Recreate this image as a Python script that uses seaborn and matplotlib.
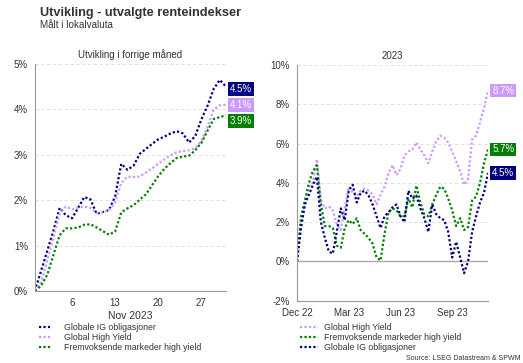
import numpy as np
import pandas as pd
import matplotlib
matplotlib.use("Agg")
import matplotlib.pyplot as plt
import matplotlib.dates as mdates
from matplotlib.ticker import FuncFormatter
import seaborn as sns

# ---------------- data ----------------
series_names = ["Globale IG obligasjoner", "Global High Yield", "Fremvoksende markeder high yield"]

month_dates = pd.date_range("2023-10-31", "2023-12-01", freq="D")
month_ig = [0, 0.45, 0.89, 1.33, 1.83, 1.67, 1.60, 1.83, 2.07, 2.02, 1.70, 1.74, 1.78, 2.08, 2.80, 2.67,
            2.76, 3.02, 3.13, 3.24, 3.34, 3.40, 3.47, 3.52, 3.47, 3.27, 3.41, 3.78, 4.08, 4.45, 4.65, 4.50]
month_hy = [0, 0.20, 0.67, 1.19, 1.70, 1.86, 1.80, 1.83, 1.86, 1.83, 1.72, 1.74, 1.77, 1.95, 2.38, 2.52,
            2.51, 2.52, 2.61, 2.70, 2.80, 2.90, 2.99, 3.06, 3.08, 3.10, 3.15, 3.30, 3.62, 4.00, 4.09, 4.10]
month_em = [0, 0.12, 0.36, 0.80, 1.23, 1.38, 1.38, 1.40, 1.46, 1.47, 1.40, 1.32, 1.24, 1.31, 1.73, 1.82,
            1.89, 2.01, 2.13, 2.33, 2.53, 2.69, 2.82, 2.93, 2.96, 2.98, 3.10, 3.26, 3.53, 3.79, 3.83, 3.87]
month_ticks = ["2023-11-06", "2023-11-13", "2023-11-20", "2023-11-27"]
month_tick_labels = ["6", "13", "20", "27"]

ytd_dates = pd.date_range("2022-12-30", "2023-12-01", freq="7D")
ytd_ig = [0, 1.7, 2.9, 3.4, 3.9, 4.3, 2.0, 1.2, 0.5, 0.4, 1.5, 2.7, 2.1, 3.6, 3.9, 3.0, 3.5, 3.6, 3.35,
          2.9, 2.3, 1.7, 2.3, 2.5, 2.75, 2.9, 2.3, 2.0, 3.6, 3.2, 3.35, 2.7, 2.2, 1.5, 2.9, 2.4, 2.2, 2.1,
          1.5, 0.2, 1.0, 0.2, -0.6, 0.0, 1.5, 2.3, 3.0, 3.5, 4.5]
ytd_hy = [0, 1.9, 3.1, 3.8, 4.0, 5.2, 3.1, 2.7, 2.8, 2.6, 1.9, 1.6, 2.7, 3.8, 3.5, 3.3, 3.6, 3.7, 3.6,
          3.4, 2.9, 3.4, 3.8, 4.5, 4.9, 4.4, 4.7, 5.4, 5.6, 5.7, 6.06, 5.7, 5.4, 5.0, 5.6, 6.1, 6.4, 6.3,
          6.05, 5.6, 5.1, 4.6, 3.9, 4.2, 6.2, 6.4, 7.1, 7.8, 8.7]
ytd_em = [0, 2.3, 3.1, 4.0, 4.6, 4.9, 2.9, 1.8, 1.8, 1.7, 0.8, 0.7, 1.7, 2.1, 1.9, 2.2, 1.6, 1.4, 1.2,
          0.9, 0.2, 0.05, 1.4, 2.5, 2.7, 2.6, 2.3, 2.3, 3.2, 2.75, 3.86, 3.0, 2.4, 2.3, 2.9, 3.4, 3.8, 3.7,
          3.2, 2.6, 1.8, 2.2, 1.6, 1.75, 3.1, 3.3, 4.0, 5.0, 5.7]
ytd_ticks = ["2022-12-31", "2023-03-31", "2023-06-30", "2023-09-30"]
ytd_tick_labels = ["Dec 22", "Mar 23", "Jun 23", "Sep 23"]

end_labels_month = ["4.5%", "4.1%", "3.9%"]
end_labels_ytd = ["4.5%", "8.7%", "5.7%"]

colors = {"Globale IG obligasjoner": "#000080",
          "Global High Yield": "#CC99FF",
          "Fremvoksende markeder high yield": "#008000"}

# ---------------- style ----------------
sns.set_style("white")
plt.rcParams["font.family"] = ["Liberation Sans", "DejaVu Sans"]
TXT = "#333333"

W, H = 523, 363
fig = plt.figure(figsize=(W / 100, H / 100), dpi=100)

axL = fig.add_axes([35 / W, 1 - 291 / H, 191 / W, 227 / H])
axR = fig.add_axes([297 / W, 1 - 300.7 / H, 191 / W, 235.7 / H])

def style_axes(ax):
    for s in ["top", "right"]:
        ax.spines[s].set_visible(False)
    for s in ["left", "bottom"]:
        ax.spines[s].set_color("#999999")
        ax.spines[s].set_linewidth(0.8)
    ax.tick_params(axis="both", which="major", labelsize=7, colors="#999999", labelcolor=TXT,
                   length=3, width=0.8, direction="out", pad=2)
    ax.yaxis.set_major_formatter(FuncFormatter(lambda v, p: f"{v:.0f}%"))
    ax.grid(axis="y", color="#dddddd", linestyle=(0, (4, 3)), linewidth=0.6)
    ax.grid(axis="x", visible=False)
    ax.set_axisbelow(True)

# ---------------- left panel ----------------
month_df = pd.DataFrame({"date": month_dates, series_names[0]: month_ig,
                         series_names[1]: month_hy, series_names[2]: month_em})
for name in series_names:
    sns.lineplot(data=month_df, x="date", y=name, ax=axL, color=colors[name],
                 linestyle=(0, (1, 1)), linewidth=1.6, label=name)
style_axes(axL)
axL.set_xlim(month_dates[0], month_dates[-1])
axL.set_ylim(0, 5)
axL.set_yticks(range(0, 6))
axL.set_xticks(pd.to_datetime(month_ticks))
axL.set_xticklabels(month_tick_labels)
axL.set_xlabel("Nov 2023", fontsize=7.5, color=TXT, labelpad=2)
axL.set_ylabel("")
axL.set_title("Utvikling i forrige måned", fontsize=7, color=TXT, pad=4)
axL.legend(loc="upper left", bbox_to_anchor=(39 / W, 1 - 323 / H), bbox_transform=fig.transFigure,
           frameon=False, fontsize=6.3, borderaxespad=0, borderpad=0, labelspacing=0.12,
           handlelength=1.4, handletextpad=1.5, labelcolor=TXT)

# end labels left (nudged to avoid overlap)
nudges_L = [-0.05, 0.0, -0.12]
for name, vals, lab, dy in zip(series_names, [month_ig, month_hy, month_em], end_labels_month, nudges_L):
    axL.annotate(lab, xy=(1.0, vals[-1] + dy), xycoords=axL.get_yaxis_transform(),
                 xytext=(3, 0), textcoords="offset points", ha="left", va="center",
                 fontsize=7, color="white", annotation_clip=False,
                 bbox=dict(boxstyle="square,pad=0.2", fc=colors[name], ec="none"))

# ---------------- right panel ----------------
ytd_df = pd.DataFrame({"date": ytd_dates, series_names[0]: ytd_ig,
                       series_names[1]: ytd_hy, series_names[2]: ytd_em})
order_R = [series_names[1], series_names[2], series_names[0]]
for name in order_R:
    sns.lineplot(data=ytd_df, x="date", y=name, ax=axR, color=colors[name],
                 linestyle=(0, (1, 1)), linewidth=1.6, label=name)
style_axes(axR)
axR.axhline(0, color="#aaaaaa", linewidth=1.0, zorder=1)
axR.set_xlim(ytd_dates[0], ytd_dates[-1])
axR.set_ylim(-2, 10)
axR.set_yticks(range(-2, 11, 2))
axR.set_xticks(pd.to_datetime(ytd_ticks))
axR.set_xticklabels(ytd_tick_labels)
axR.set_xlabel("")
axR.set_ylabel("")
axR.set_title("2023", fontsize=7, color=TXT, pad=4)
axR.legend(loc="upper left", bbox_to_anchor=(300 / W, 1 - 323 / H), bbox_transform=fig.transFigure,
           frameon=False, fontsize=6.3, borderaxespad=0, borderpad=0, labelspacing=0.12,
           handlelength=2.0, handletextpad=0.8, labelcolor=TXT)

for name, vals, lab in zip(series_names, [ytd_ig, ytd_hy, ytd_em], end_labels_ytd):
    axR.annotate(lab, xy=(1.0, vals[-1]), xycoords=axR.get_yaxis_transform(),
                 xytext=(3, 0), textcoords="offset points", ha="left", va="center",
                 fontsize=7, color="white", annotation_clip=False,
                 bbox=dict(boxstyle="square,pad=0.2", fc=colors[name], ec="none"))

# ---------------- titles ----------------
fig.text(40 / W, 1 - 13 / H, "Utvikling - utvalgte renteindekser", fontsize=9.2, fontweight="bold",
         color=TXT, ha="left", va="center")
fig.text(40 / W, 1 - 25.5 / H, "Målt i lokalvaluta", fontsize=7.1, color=TXT, ha="left", va="center")
fig.text(521 / W, 1 - 358 / H, "Source: LSEG Datastream & SPWM", fontsize=5, color=TXT,
         ha="right", va="center")

fig.savefig("out.png", dpi=100)
